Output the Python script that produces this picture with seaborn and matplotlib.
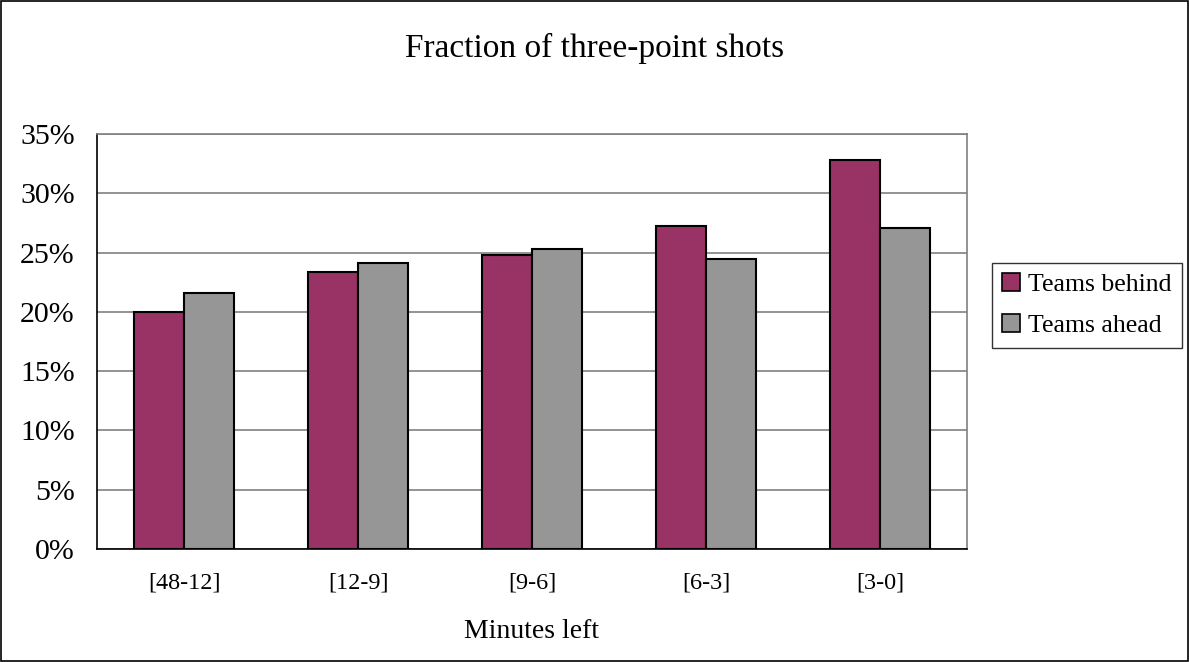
import matplotlib
matplotlib.use("Agg")
import matplotlib.pyplot as plt
import seaborn as sns
import pandas as pd
from matplotlib.patches import Patch, Rectangle
from matplotlib.ticker import FixedLocator

categories = ["[48-12]", "[12-9]", "[9-6]", "[6-3]", "[3-0]"]
teams_behind = [0.200, 0.234, 0.248, 0.272, 0.328]
teams_ahead = [0.216, 0.241, 0.253, 0.245, 0.271]
series_names = ["Teams behind", "Teams ahead"]
colors = ["#993366", "#969696"]
yticks = [0.0, 0.05, 0.10, 0.15, 0.20, 0.25, 0.30, 0.35]
ytick_labels = ["0%", "5%", "10%", "15%", "20%", "25%", "30%", "35%"]

df = pd.DataFrame({
    "cat": categories * 2,
    "value": teams_behind + teams_ahead,
    "series": [series_names[0]] * len(categories) + [series_names[1]] * len(categories),
})

sns.set_style("white")
plt.rcParams['font.family'] = ['Liberation Serif', 'DejaVu Serif']
plt.rcParams['text.color'] = 'black'
plt.rcParams['xtick.color'] = 'black'
plt.rcParams['ytick.color'] = 'black'
plt.rcParams['axes.labelcolor'] = 'black'

fig = plt.figure(figsize=(11.89, 6.62), dpi=100)
ax = fig.add_axes([97/1189, 1-549/662, (967-97)/1189, (549-134)/662])

sns.barplot(data=df, x="cat", y="value", hue="series", order=categories,
            hue_order=series_names, palette=colors, width=0.575, gap=0,
            edgecolor="black", linewidth=1.5, saturation=1, ax=ax, legend=False, zorder=3)

ax.set_ylim(0, 0.35)
ax.set_xlim(-0.5, len(categories) - 0.5)
ax.set_yticks(yticks)
ax.set_yticklabels(ytick_labels, fontsize=21.5)
ax.yaxis.grid(True, color="#808080", linewidth=1.2, zorder=0)
ax.set_axisbelow(True)

ax.set_xticks(range(len(categories)))
ax.set_xticklabels(categories, fontsize=17.5)
ax.xaxis.set_minor_locator(FixedLocator([i - 0.5 for i in range(len(categories) + 1)]))
ax.tick_params(axis="x", which="major", length=0, pad=17)
ax.tick_params(axis="x", which="minor", length=6, width=1, color="black", direction="out")
ax.tick_params(axis="y", length=6, width=1, color="black", direction="out", pad=10)

ax.set_xlabel("Minutes left", fontsize=20, labelpad=18)
ax.set_ylabel("")

for side in ["top", "right"]:
    ax.spines[side].set_color("#808080")
    ax.spines[side].set_linewidth(1.2)
for side in ["left", "bottom"]:
    ax.spines[side].set_color("black")
    ax.spines[side].set_linewidth(1.2)

fig.text(595/1189, 1-48/662, "Fraction of three-point shots", ha="center", va="center", fontsize=24)

handles = [Patch(facecolor=c, edgecolor="black", linewidth=1.2, label=n) for c, n in zip(colors, series_names)]
leg = fig.legend(handles=handles, loc="upper left", bbox_to_anchor=(992/1189, 1-263/662),
                 fontsize=18.5, frameon=True, fancybox=False, edgecolor="black",
                 handlelength=0.7, handleheight=0.7, handletextpad=0.3, borderpad=0.4,
                 labelspacing=0.7, borderaxespad=0)
leg.get_frame().set_linewidth(1.0)

fig.patches.append(Rectangle((0.001, 0.001), 0.998, 0.997, transform=fig.transFigure,
                             fill=False, edgecolor="black", linewidth=1.2))

fig.savefig("out.png", dpi=100)
